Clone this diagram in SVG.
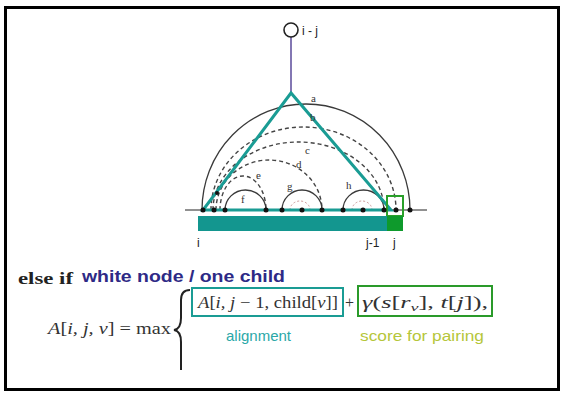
<svg xmlns="http://www.w3.org/2000/svg" width="564" height="394" viewBox="0 0 564 394">
<style>
.arc{fill:none;stroke:#3a3a3a;stroke-width:1.3}
.dash{fill:none;stroke:#444;stroke-width:1.4;stroke-dasharray:4 3}
.pink{fill:none;stroke:#c99;stroke-width:1;stroke-dasharray:2 2}
.dot{fill:#111}
.lbl{font-family:"Liberation Serif",serif;font-size:11px;fill:#333}
.idx{font-family:"Liberation Sans",Arial,sans-serif;font-size:12px;fill:#222}
.math{font-family:"Liberation Serif",serif;font-size:16px;fill:#333}
.it{font-style:italic}
</style>
<rect x="5.5" y="7.5" width="553" height="382" fill="#fff" stroke="#000" stroke-width="3"/>

<g id="root-node">
<line x1="291" y1="37" x2="291" y2="93" stroke="#5a4a9a" stroke-width="1.5"/>
<circle cx="291" cy="30" r="7" fill="#fff" stroke="#222" stroke-width="1.6"/>
<text x="302" y="35" class="idx" font-size="13">i - j</text>
</g>

<g id="connectors">
<line x1="185" y1="210" x2="427" y2="210" stroke="#222" stroke-width="1"/>
<path class="arc" d="M202 210 A104 106 0 0 1 410 210"/>
<path class="dash" d="M211 210 A92.5 83 0 0 1 396 210"/>
<path class="dash" d="M213 210 A85.5 68 0 0 1 384 210"/>
<path class="dash" d="M216 210 A53 50 0 0 1 322 210"/>
<path class="dash" d="M220 210 A23 34 0 0 1 266 210"/>
<path class="arc" d="M225 210 A20.5 20 0 0 1 266 210"/>
<path class="arc" d="M282 210 A20 20 0 0 1 322 210"/>
<path class="arc" d="M343 210 A20.5 20 0 0 1 384 210"/>
<path class="pink" d="M290 210 A10 9 0 0 1 310 210"/>
<path class="pink" d="M352 210 A10 9 0 0 1 372 210"/>
<path class="pink" d="M205 208 Q212 200 218 192"/>
<polygon points="291,93 203,210 391,210" fill="none" stroke="#1a9c94" stroke-width="3" stroke-linejoin="miter"/>
<rect x="387" y="196" width="16" height="20" fill="none" stroke="#2aa02a" stroke-width="2"/>
<g class="dot">
<circle cx="203" cy="210" r="2.5"/><circle cx="214" cy="210" r="2.5"/><circle cx="225" cy="210" r="2.5"/>
<circle cx="266" cy="210" r="2.5"/><circle cx="282" cy="210" r="2.5"/><circle cx="302" cy="210" r="2.5"/>
<circle cx="322" cy="210" r="2.5"/><circle cx="343" cy="210" r="2.5"/><circle cx="363" cy="210" r="2.5"/>
<circle cx="384" cy="210" r="2.5"/><circle cx="396" cy="210" r="2.5"/><circle cx="410" cy="210" r="2.5"/>
<circle cx="217" cy="193" r="2"/>
</g>
<text x="311" y="102" class="lbl">a</text>
<text x="310" y="121" class="lbl">b</text>
<text x="305" y="154" class="lbl">c</text>
<text x="296" y="168" class="lbl">d</text>
<text x="256" y="179" class="lbl">e</text>
<text x="241" y="203" class="lbl">f</text>
<text x="287" y="190" class="lbl">g</text>
<text x="346" y="189" class="lbl">h</text>
</g>

<g id="sequence-bar">
<rect x="198" y="216" width="189" height="15" fill="#13968f"/>
<rect x="387" y="216" width="16" height="15" fill="#0e9a2c"/>
<text x="197" y="247" class="idx">i</text>
<text x="366" y="247" class="idx">j-1</text>
<text x="393" y="247" class="idx">j</text>
</g>

<g id="heading">
<text x="18" y="284" font-family="Liberation Serif,serif" font-weight="bold" font-size="17" fill="#222" textLength="55" lengthAdjust="spacingAndGlyphs">else if</text>
<text x="82" y="282" font-family="Liberation Sans,Arial,sans-serif" font-weight="bold" font-size="16" fill="#2e2a86" textLength="203" lengthAdjust="spacingAndGlyphs">white node / one child</text>
</g>

<g id="formula">
<text x="48" y="334" class="math" textLength="123" lengthAdjust="spacingAndGlyphs"><tspan class="it">A</tspan>[<tspan class="it">i, j, v</tspan>] = max</text>
<path d="M190 290 Q181 290 181 300 L181 318 Q181 329 174 330 Q181 331 181 342 L181 370" fill="none" stroke="#222" stroke-width="2"/>
</g>

<g id="alignment-term">
<rect x="192" y="288" width="151" height="28" fill="none" stroke="#1a9c94" stroke-width="2"/>
<text x="198" y="308" class="math" textLength="140" lengthAdjust="spacingAndGlyphs"><tspan class="it">A</tspan>[<tspan class="it">i, j</tspan> − 1, child[<tspan class="it">v</tspan>]]</text>
<text x="226" y="341" font-family="Liberation Sans,Arial,sans-serif" font-size="15" fill="#2aa8a8">alignment</text>
</g>

<text x="345" y="308" class="math" fill="#777">+</text>

<g id="pairing-term">
<rect x="358" y="286" width="134" height="30" fill="none" stroke="#2a9a2a" stroke-width="2"/>
<text x="362" y="308" class="math" textLength="126" lengthAdjust="spacingAndGlyphs"><tspan class="it">γ</tspan>(<tspan class="it">s</tspan>[<tspan class="it">r<tspan font-size="11" dy="3">v</tspan></tspan><tspan dy="-3">], </tspan><tspan class="it">t</tspan>[<tspan class="it">j</tspan>]),</text>
<text x="360" y="341" font-family="Liberation Sans,Arial,sans-serif" font-size="15" fill="#b5c63a" textLength="124" lengthAdjust="spacingAndGlyphs">score for pairing</text>
</g>
</svg>
